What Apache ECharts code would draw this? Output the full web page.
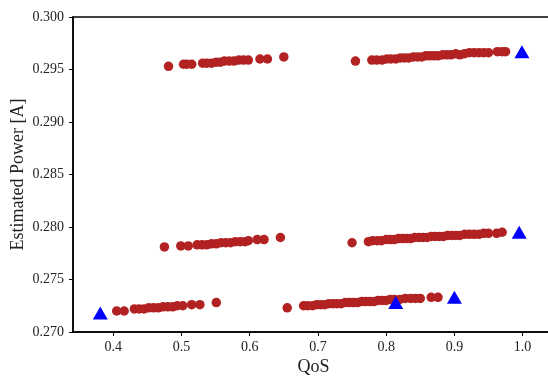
<!DOCTYPE html>
<html>
<head>
<meta charset="utf-8">
<script src="https://cdn.jsdelivr.net/npm/echarts@6/dist/echarts.min.js"></script>
<style>
  html, body { margin: 0; padding: 0; background: #fff; }
  #box1 { width: 548px; height: 376px; }
</style>
</head>
<body>
<div id="box1"></div>
<script>
// data, [QoS, power]
var upperLeft = [[0.481,0.2953],[0.503,0.2955],[0.508,0.2955],[0.515,0.2955],[0.531,0.2956],[0.537,0.2956],[0.544,0.2956],[0.551,0.2957],[0.557,0.2957],[0.563,0.2958],[0.570,0.2958],[0.577,0.2958],[0.584,0.2959],[0.591,0.2959],[0.598,0.2959],[0.615,0.2960],[0.626,0.2960],[0.650,0.2962]];
var upperRight = [[0.755,0.2958],[0.779,0.2959],[0.786,0.2959],[0.794,0.2959],[0.801,0.2960],[0.807,0.2960],[0.814,0.2960],[0.821,0.2961],[0.827,0.2961],[0.833,0.2961],[0.840,0.2962],[0.846,0.2962],[0.852,0.2962],[0.858,0.2963],[0.864,0.2963],[0.870,0.2963],[0.876,0.2963],[0.883,0.2964],[0.889,0.2964],[0.895,0.2964],[0.902,0.2965],[0.908,0.2964],[0.915,0.2965],[0.922,0.2966],[0.929,0.2966],[0.936,0.2966],[0.943,0.2966],[0.950,0.2966],[0.963,0.2967],[0.970,0.2967],[0.975,0.2967]];
var midLeft = [[0.475,0.2781],[0.499,0.2782],[0.510,0.2782],[0.523,0.2783],[0.530,0.2783],[0.537,0.2783],[0.544,0.2784],[0.551,0.2784],[0.558,0.2785],[0.565,0.2785],[0.572,0.2785],[0.579,0.2786],[0.586,0.2786],[0.593,0.2786],[0.598,0.2787],[0.611,0.2788],[0.621,0.2788],[0.645,0.2790]];
var midRight = [[0.750,0.2785],[0.774,0.2786],[0.780,0.2787],[0.787,0.2787],[0.793,0.2787],[0.800,0.2788],[0.806,0.2788],[0.812,0.2788],[0.818,0.2789],[0.824,0.2789],[0.830,0.2789],[0.836,0.2789],[0.842,0.2790],[0.848,0.2790],[0.854,0.2790],[0.860,0.2790],[0.866,0.2791],[0.872,0.2791],[0.878,0.2791],[0.884,0.2791],[0.890,0.2792],[0.896,0.2792],[0.902,0.2792],[0.908,0.2792],[0.915,0.2793],[0.922,0.2793],[0.929,0.2793],[0.936,0.2793],[0.943,0.2794],[0.950,0.2794],[0.962,0.2794],[0.970,0.2795]];
var lowLeft = [[0.405,0.2720],[0.416,0.2720],[0.431,0.2722],[0.438,0.2722],[0.445,0.2722],[0.452,0.2723],[0.459,0.2723],[0.466,0.2723],[0.473,0.2724],[0.480,0.2724],[0.487,0.2724],[0.494,0.2725],[0.502,0.2725],[0.515,0.2726],[0.527,0.2726],[0.551,0.2728]];
var lowRight = [[0.655,0.2723],[0.679,0.2725],[0.685,0.2725],[0.692,0.2725],[0.698,0.2726],[0.704,0.2726],[0.710,0.2726],[0.716,0.2727],[0.722,0.2727],[0.728,0.2727],[0.734,0.2727],[0.740,0.2728],[0.746,0.2728],[0.752,0.2728],[0.758,0.2728],[0.764,0.2729],[0.770,0.2729],[0.776,0.2729],[0.782,0.2729],[0.788,0.2730],[0.794,0.2730],[0.800,0.2730],[0.806,0.2731],[0.812,0.2731],[0.820,0.2731],[0.828,0.2732],[0.836,0.2732],[0.843,0.2732],[0.850,0.2732],[0.866,0.2733],[0.876,0.2733]];
var triangles = [[0.381,0.2718],[0.814,0.2728],[0.900,0.2733],[0.995,0.2795],[0.999,0.2967]];
var xTicks = [0.4, 0.5, 0.6, 0.7, 0.8, 0.9, 1.0];

var chartDom = document.getElementById('box1');
var myChart = echarts.init(chartDom);
var font = 'Liberation Serif';
var red = '#b22222';

var redData = [].concat(upperLeft, upperRight, midLeft, midRight, lowLeft, lowRight);

var option = {
    animation: false,
    grid: {
        left: 73, top: 17, right: -6, bottom: 44,
        containLabel: false,
        outerBoundsMode: 'none',
        show: true, borderColor: '#000', borderWidth: 1.5
    },
    xAxis: {
        type: 'value',
        min: 0.341,
        max: 1.046,
        name: 'QoS',
        nameLocation: 'middle',
        nameGap: 26,
        nameMoveOverlap: false,
        nameTextStyle: { fontFamily: font, fontSize: 18, color: '#222' },
        axisLine: { show: true, lineStyle: { color: '#000', width: 1.5 } },
        axisTick: { show: true, length: 4, customValues: xTicks, lineStyle: { color: '#000', width: 1 } },
        axisLabel: {
            customValues: xTicks,
            fontFamily: font, fontSize: 14, color: '#222', margin: 8,
            formatter: function (v) { return v.toFixed(1); }
        },
        splitLine: { show: false }
    },
    yAxis: {
        type: 'value',
        min: 0.270,
        max: 0.300,
        interval: 0.005,
        name: 'Estimated Power [A]',
        nameLocation: 'middle',
        nameGap: 46,
        nameMoveOverlap: false,
        nameTextStyle: { fontFamily: font, fontSize: 18, color: '#222' },
        axisLine: { show: true, lineStyle: { color: '#000', width: 1.5 } },
        axisTick: { show: true, length: 4, lineStyle: { color: '#000', width: 1 } },
        axisLabel: {
            fontFamily: font, fontSize: 14, color: '#222', margin: 9,
            formatter: function (v) { return v.toFixed(3); }
        },
        splitLine: { show: false }
    },
    series: [{
        name: 'configs',
        type: 'scatter',
        symbol: 'circle',
        symbolSize: 9.5,
        itemStyle: { color: red, opacity: 1 },
        data: redData
    }, {
        name: 'pareto',
        type: 'scatter',
        symbol: 'triangle',
        symbolSize: [15, 13],
        itemStyle: { color: '#0000ff', opacity: 1 },
        data: triangles,
        z: 3
    }]
};

myChart.setOption(option);
</script>
</body>
</html>
